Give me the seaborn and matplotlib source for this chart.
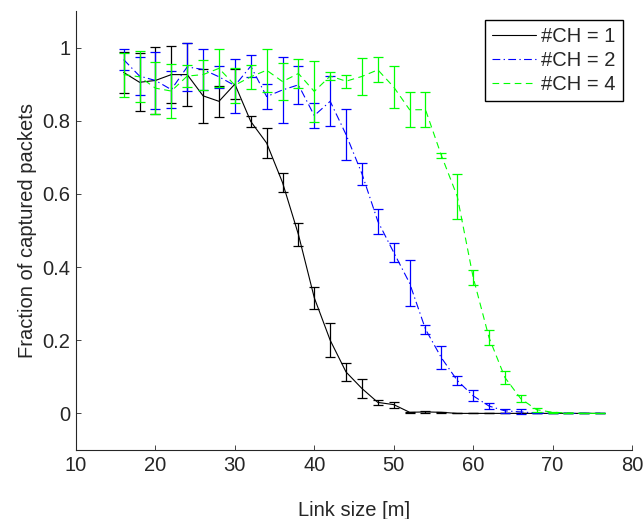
import matplotlib
matplotlib.use("Agg")
import matplotlib.pyplot as plt
import pandas as pd
import seaborn as sns

# ---------------------------------------------------------------------------
# Data
# ---------------------------------------------------------------------------
link_size = [16, 18, 20, 22, 24, 26, 28, 30, 32, 34, 36, 38, 40, 42, 44, 46,
             48, 50, 52, 54, 56, 58, 60, 62, 64, 66, 68, 70, 72, 74, 76]

ch1_mean = [0.932, 0.905, 0.910, 0.926, 0.926, 0.868, 0.853, 0.900, 0.798,
            0.739, 0.631, 0.489, 0.316, 0.200, 0.113, 0.068, 0.030, 0.024,
            0.003, 0.004, 0.003, 0.0, 0.0, 0.0, 0.0, 0.0, 0.0, 0.0, 0.0,
            0.0, 0.0]
ch1_err = [0.056, 0.079, 0.092, 0.078, 0.086, 0.073, 0.042, 0.040, 0.016,
           0.042, 0.025, 0.031, 0.030, 0.046, 0.025, 0.026, 0.006, 0.008,
           0.002, 0.003, 0.002, 0.0, 0.0, 0.0, 0.0, 0.0, 0.0, 0.0, 0.0,
           0.0, 0.0]

ch2_mean = [0.967, 0.922, 0.910, 0.885, 0.947, 0.940, 0.920, 0.896, 0.949,
            0.866, 0.884, 0.898, 0.814, 0.853, 0.762, 0.655, 0.525, 0.440,
            0.356, 0.230, 0.152, 0.090, 0.048, 0.020, 0.007, 0.004, 0.001,
            0.0, 0.0, 0.0, 0.0]
ch2_err = [0.028, 0.052, 0.079, 0.050, 0.066, 0.055, 0.030, 0.074, 0.030,
           0.033, 0.090, 0.051, 0.034, 0.068, 0.070, 0.030, 0.035, 0.027,
           0.062, 0.012, 0.032, 0.013, 0.015, 0.008, 0.005, 0.007, 0.001,
           0.0, 0.0, 0.0, 0.0]

ch4_mean = [0.926, 0.920, 0.889, 0.881, 0.922, 0.926, 0.943, 0.897, 0.920,
            0.938, 0.907, 0.929, 0.880, 0.922, 0.908, 0.921, 0.939, 0.892,
            0.830, 0.830, 0.705, 0.593, 0.372, 0.207, 0.098, 0.040, 0.010,
            0.003, 0.001, 0.0, 0.0]
ch4_err = [0.060, 0.070, 0.072, 0.074, 0.030, 0.041, 0.052, 0.048, 0.033,
           0.059, 0.051, 0.039, 0.083, 0.012, 0.018, 0.050, 0.034, 0.057,
           0.048, 0.048, 0.007, 0.061, 0.020, 0.020, 0.017, 0.010, 0.005,
           0.002, 0.001, 0.0, 0.0]

labels = ["#CH = 1", "#CH = 2", "#CH = 4"]
colors = ["#000000", "#0000ff", "#00ff00"]
linestyles = ["-", (0, (7, 3, 1.2, 3)), (0, (6, 4))]

# ---------------------------------------------------------------------------
# Style
# ---------------------------------------------------------------------------
sns.set_style("ticks")
plt.rcParams["font.family"] = ["Liberation Sans", "DejaVu Sans"]
plt.rcParams["font.size"] = 14.5
plt.rcParams["xtick.direction"] = "in"
plt.rcParams["ytick.direction"] = "in"

fig = plt.figure(figsize=(6.44, 5.19), dpi=100)
ax = fig.add_axes([0.118, 0.133, 0.8634, 0.8459])

series = [(ch1_mean, ch1_err), (ch2_mean, ch2_err), (ch4_mean, ch4_err)]
for (mean, err), lab, col, ls in zip(series, labels, colors, linestyles):
    df = pd.DataFrame({"x": link_size, "y": mean, "e": err})
    sns.lineplot(data=df, x="x", y="y", ax=ax, color=col, linestyle=ls,
                 linewidth=0.8, label=lab)
    ax.errorbar(df["x"], df["y"], yerr=df["e"], fmt="none", ecolor=col,
                elinewidth=0.9, capsize=3.5, capthick=0.9)

ax.set_xlim(10, 80)
ax.set_ylim(-0.1, 1.1)
ax.set_xticks([10, 20, 30, 40, 50, 60, 70, 80])
ax.set_yticks([0, 0.2, 0.4, 0.6, 0.8, 1.0])
ax.set_yticklabels(["0", "0.2", "0.4", "0.6", "0.8", "1"])
ax.tick_params(axis="both", length=3.6, width=0.6, pad=4, labelsize=14.5)
for sp in ["left", "bottom"]:
    ax.spines[sp].set_linewidth(0.8)
sns.despine(ax=ax)

ax.set_xlabel("Link size [m]", fontsize=14.5, labelpad=19)
ax.set_ylabel("Fraction of captured packets", fontsize=14.5, labelpad=4)

leg = ax.legend(loc="upper right", fontsize=14.5, frameon=True, fancybox=False,
                edgecolor="black", framealpha=1, borderaxespad=0.45,
                handlelength=2.2, handletextpad=0.25, labelspacing=0.25,
                borderpad=0.35)
leg.get_frame().set_linewidth(1.0)

fig.savefig("out.png", dpi=100)
